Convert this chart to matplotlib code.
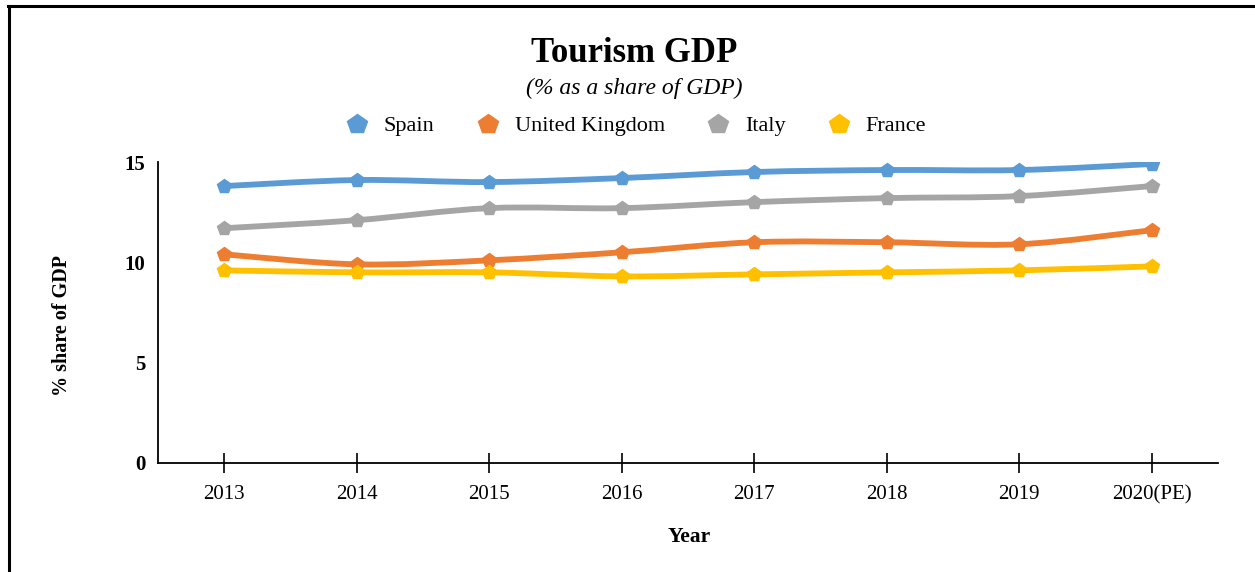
import matplotlib
matplotlib.use("Agg")
import matplotlib.pyplot as plt
from matplotlib.path import Path
from matplotlib.patches import PathPatch
from matplotlib.lines import Line2D
import numpy as np

years = ["2013", "2014", "2015", "2016", "2017", "2018", "2019", "2020(PE)"]
spain = [13.8, 14.1, 14.0, 14.2, 14.5, 14.6, 14.6, 14.9]
uk = [10.4, 9.9, 10.1, 10.5, 11.0, 11.0, 10.9, 11.6]
italy = [11.7, 12.1, 12.7, 12.7, 13.0, 13.2, 13.3, 13.8]
france = [9.6, 9.5, 9.5, 9.3, 9.4, 9.5, 9.6, 9.8]
series_names = ["Spain", "United Kingdom", "Italy", "France"]
colors = ["#5B9BD5", "#ED7D31", "#A5A5A5", "#FFC000"]

plt.rcParams['font.family'] = ['Liberation Serif', 'DejaVu Serif']

W, H = 1255, 572
fig = plt.figure(figsize=(W / 100, H / 100), dpi=100)
ax = fig.add_axes([158 / W, 1 - 463 / H, (1218 - 158) / W, (463 - 162) / H])

x = np.arange(len(years))


def smooth_path(xs, ys, t=1 / 6):
    # Catmull-Rom style Bezier path through the data points
    verts = [(xs[0], ys[0])]
    codes = [Path.MOVETO]
    n = len(xs)
    for i in range(n - 1):
        x0, y0 = (xs[i - 1], ys[i - 1]) if i > 0 else (xs[i], ys[i])
        x1, y1 = xs[i], ys[i]
        x2, y2 = xs[i + 1], ys[i + 1]
        x3, y3 = (xs[i + 2], ys[i + 2]) if i + 2 < n else (x2, y2)
        c1 = (x1 + (x2 - x0) * t, y1 + (y2 - y0) * t)
        c2 = (x2 - (x3 - x1) * t, y2 - (y3 - y1) * t)
        verts += [c1, c2, (x2, y2)]
        codes += [Path.CURVE4] * 3
    return Path(verts, codes)


all_series = [spain, uk, italy, france]
handles = []
for name, vals, c in zip(series_names, all_series, colors):
    p = PathPatch(smooth_path(x, vals), facecolor='none', edgecolor=c,
                  lw=4.2, capstyle='round', joinstyle='round', zorder=3)
    ax.add_patch(p)
    ax.plot(x, vals, linestyle='none', marker='p', markersize=10,
            color=c, markeredgecolor=c, zorder=4)
    handles.append(Line2D([], [], linestyle='none', marker='p', markersize=15,
                          color=c, markeredgecolor=c, label=name))

ax.set_xlim(-0.5, 7.5)
ax.set_ylim(0, 15)
ax.set_xticks(x)
ax.set_xticklabels(years, fontsize=15)
ax.set_yticks([0, 5, 10, 15])
ax.set_yticklabels(["0", "5", "10", "15"], fontsize=15, fontweight='bold')
ax.tick_params(axis='x', direction='inout', length=14, width=1.2, pad=9)
ax.tick_params(axis='y', length=0, pad=9)
for s in ['top', 'right']:
    ax.spines[s].set_visible(False)
ax.spines['left'].set_linewidth(1.3)
ax.spines['bottom'].set_linewidth(1.3)

fig.text(689 / W, 1 - 537 / H, "Year", ha='center', va='center',
         fontsize=15.5, fontweight='bold')
fig.text(62 / W, 1 - 325 / H, "% share of GDP", ha='center', va='center',
         rotation=90, fontsize=14.5, fontweight='bold')

fig.text(634 / W, 1 - 53 / H, "Tourism GDP", ha='center', va='center',
         fontsize=25, fontweight='bold')
fig.text(634 / W, 1 - 88 / H, "(% as a share of GDP)", ha='center', va='center',
         fontsize=17, style='italic')

fig.legend(handles=handles, loc='center', bbox_to_anchor=(636 / W, 1 - 126 / H),
           ncol=4, frameon=False, fontsize=16, handletextpad=0.7,
           columnspacing=1.9, handlelength=1.0)

# figure border lines (top and left)
fig.add_artist(Line2D([8 / W, 1], [1 - 6 / H, 1 - 6 / H], transform=fig.transFigure,
                      color='black', lw=2.2))
fig.add_artist(Line2D([9 / W, 9 / W], [0, 1 - 6 / H], transform=fig.transFigure,
                      color='black', lw=2.2))

fig.savefig("out.png", dpi=100)
